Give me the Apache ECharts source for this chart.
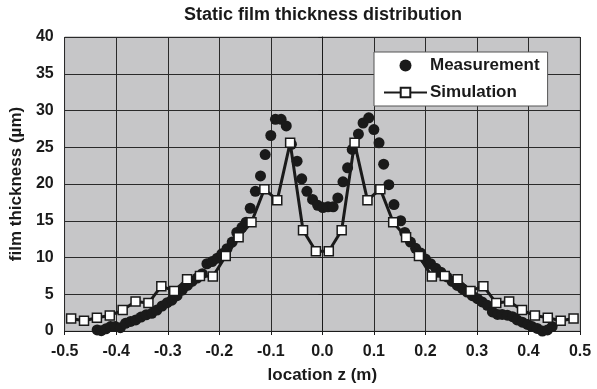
<!DOCTYPE html>
<html>
<head>
<meta charset="utf-8">
<script src="https://cdn.jsdelivr.net/npm/echarts@6/dist/echarts.min.js"></script>
<style>
html,body{margin:0;padding:0;background:#fff;}
#chart{width:597px;height:389px;}
</style>
</head>
<body>
<div id="chart"></div>
<script>
// measured film thickness: location z (m), thickness (um)
const measZ = [
-0.437,-0.429,-0.420,-0.411,-0.402,-0.392,-0.382,-0.372,-0.362,-0.352,
-0.342,-0.331,-0.321,-0.311,-0.301,-0.292,-0.282,-0.272,-0.262,-0.253,
-0.243,-0.233,-0.224,-0.214,-0.204,-0.195,-0.185,-0.175,-0.166,-0.156,
-0.148,-0.140,-0.130,-0.120,-0.111,-0.100,-0.091,-0.080,-0.070,-0.060,
-0.049,-0.040,-0.030,-0.019,-0.009,0.001,0.011,0.021,0.030,0.040,
0.049,0.058,0.070,0.079,0.090,0.100,0.110,0.119,0.129,0.139,
0.152,0.160,0.171,0.181,0.191,0.200,0.210,0.220,0.230,0.242,
0.252,0.262,0.272,0.281,0.291,0.301,0.310,0.320,0.330,0.340,
0.349,0.359,0.369,0.378,0.388,0.398,0.407,0.417,0.427,0.437,0.446
];
const measVal = [
0.15,0.05,0.3,0.6,0.6,0.45,1.05,1.3,1.5,1.9,
2.2,2.4,2.85,3.4,3.85,4.2,4.8,5.55,6.2,6.75,
7.2,7.8,9.15,9.45,9.9,10.5,11.2,12.1,13.4,14.1,
14.8,16.7,19.0,21.1,24.0,26.6,28.8,28.8,27.9,25.4,
23.1,20.7,19.0,17.9,17.1,16.8,16.9,16.9,18.1,20.3,
22.2,24.7,26.8,28.3,29.0,27.4,25.6,22.7,19.9,17.2,
15.0,13.4,12.1,11.25,10.6,9.8,9.15,8.55,8.0,7.35,
6.75,6.2,5.75,5.3,4.8,4.4,3.95,3.5,2.6,2.25,
2.25,2.15,1.95,1.5,1.2,0.9,0.6,0.35,0.0,0.15,0.6
];

// simulated film thickness
const simZ = [
-0.4875,-0.4625,-0.4375,-0.4125,-0.3875,-0.3625,-0.3375,-0.3125,-0.2875,-0.2625,
-0.2375,-0.2125,-0.1875,-0.1625,-0.1375,-0.1125,-0.0875,-0.0625,-0.0375,-0.0125,
0.0125,0.0375,0.0625,0.0875,0.1125,0.1375,0.1625,0.1875,0.2125,0.2375,
0.2625,0.2875,0.3125,0.3375,0.3625,0.3875,0.4125,0.4375,0.4625,0.4875
];
const simVal = [
1.7,1.4,1.8,2.1,2.85,4.0,3.8,6.1,5.45,7.05,
7.5,7.4,10.2,12.75,14.8,19.3,17.8,25.6,13.7,10.85,
10.85,13.7,25.6,17.8,19.3,14.8,12.75,10.2,7.4,7.5,
7.05,5.45,6.1,3.8,4.0,2.85,2.1,1.8,1.4,1.7
];

const FONT = "Liberation Sans, Arial, sans-serif";
const INK = "#1a1a1a";

const chart = echarts.init(document.getElementById("chart"));

chart.setOption({
  animation:false,
  backgroundColor:"#fff",
  title:{
    text:"Static film thickness distribution",
    left:318, top:1, textAlign:"center",
    textStyle:{fontFamily:FONT,fontSize:18,fontWeight:"bold",color:INK}
  },
  grid:{left:64,right:17,top:37,bottom:56,show:true,backgroundColor:"#c6c6c8",borderColor:"#a0a0a0",borderWidth:1},
  legend:{
    left:374, top:52, orient:"vertical",
    backgroundColor:"#fff", borderColor:"#555", borderWidth:1,
    padding:[5,8,5,9], itemWidth:43, itemHeight:12, itemGap:10,
    textStyle:{fontFamily:FONT,fontSize:17,fontWeight:"bold",color:INK,padding:[0,0,0,-2]},
    data:["Measurement","Simulation"]
  },
  xAxis:{
    type:"value", min:-0.5, max:0.5, interval:0.1,
    name:"location z (m)", nameLocation:"middle", nameGap:36,
    nameTextStyle:{fontFamily:FONT,fontSize:17,fontWeight:"bold",color:INK},
    axisLine:{onZero:false,lineStyle:{color:INK,width:1}},
    axisTick:{show:true,length:4,lineStyle:{color:INK}},
    axisLabel:{fontFamily:FONT,fontSize:16,fontWeight:"bold",color:INK,margin:13,
      formatter:v=>v.toFixed(1)},
    splitLine:{show:true,lineStyle:{color:"#2a2a2a",width:1}}
  },
  yAxis:{
    type:"value", min:0, max:40, interval:5,
    name:"film thickness (µm)", nameLocation:"middle", nameGap:33,
    nameTextStyle:{fontFamily:FONT,fontSize:17,fontWeight:"bold",color:INK},
    axisLine:{show:true,lineStyle:{color:INK,width:1}},
    axisTick:{show:true,length:4,lineStyle:{color:INK}},
    axisLabel:{fontFamily:FONT,fontSize:16,fontWeight:"bold",color:INK,margin:11},
    splitLine:{show:true,lineStyle:{color:"#2a2a2a",width:1}}
  },
  series:[
    {
      name:"Measurement", type:"scatter",
      symbol:"circle", symbolSize:11,
      itemStyle:{color:INK,opacity:1},
      data:measZ.map((z,i)=>[z,measVal[i]]),
      z:2
    },
    {
      name:"Simulation", type:"line",
      symbol:"rect", symbolSize:9, showAllSymbol:true,
      lineStyle:{color:INK,width:3},
      itemStyle:{color:"#fff",borderColor:INK,borderWidth:1.5},
      data:simZ.map((z,i)=>[z,simVal[i]]),
      z:3
    }
  ]
});
</script>
</body>
</html>
